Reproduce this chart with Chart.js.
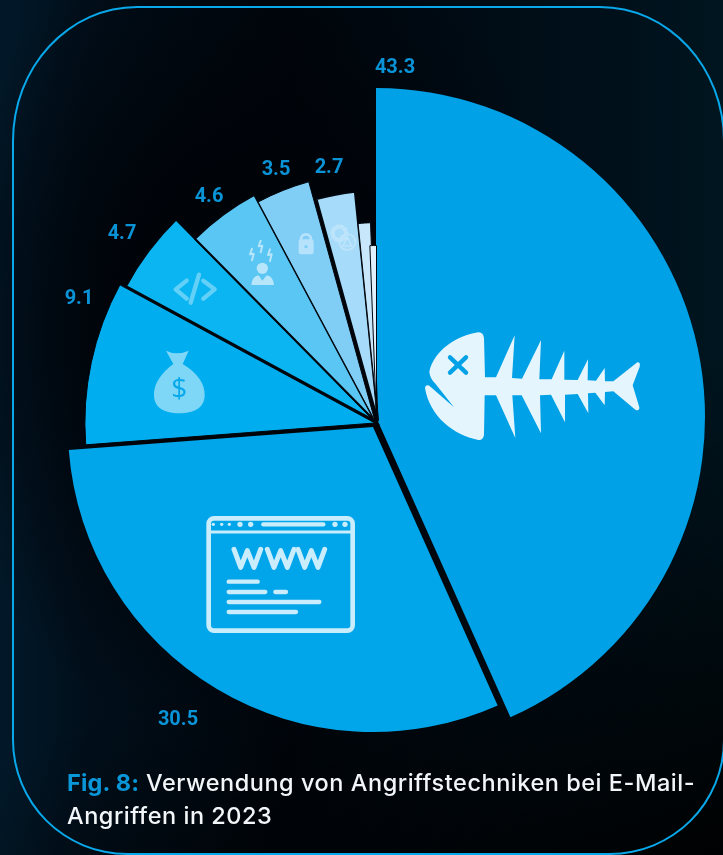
<!DOCTYPE html>
<html lang="de">
<head>
<meta charset="utf-8">
<style>
html,body{margin:0;padding:0;width:723px;height:855px;overflow:hidden;background:#01060d;}
#bg{position:absolute;left:0;top:0;width:723px;height:855px;
 background:
  radial-gradient(ellipse 330px 420px at 250px 330px, rgba(0,3,8,1) 35%, rgba(0,3,8,0) 100%),
  linear-gradient(90deg,#02192a 0%,#010f1b 12%,#00060d 40%,#00101b 85%,#00151f 100%);}
#bg2{position:absolute;left:0;top:0;width:723px;height:855px;
 background:linear-gradient(150deg,rgba(0,0,0,0) 60%,rgba(0,0,0,.95) 100%);}
#frame{position:absolute;left:12px;top:6px;width:709px;height:845px;border:2px solid #08a8ea;border-radius:125px 125px 115px 115px / 135px 135px 115px 115px;box-sizing:content-box;}
#wrap{position:absolute;left:0;top:0;width:723px;height:855px;}
#caption{position:absolute;left:67px;top:766px;width:650px;color:#f2f6f8;font:500 23.5px/33px "Inter",sans-serif;letter-spacing:.53px;white-space:nowrap;}
#caption b{color:#0a97da;font-weight:700;letter-spacing:.2px;}
</style>
</head>
<body>
<div id="bg"></div><div id="bg2"></div><div id="frame"></div>
<div id="wrap"><canvas id="c" width="723" height="855"></canvas></div>
<div id="caption"><b>Fig. 8:</b> Verwendung von Angriffstechniken bei E-Mail-<br>Angriffen in 2023</div>
<script src="https://cdn.jsdelivr.net/npm/chart.js@4"></script>
<script>
const categories = ["Phishing","Bösartige URLs","BEC / Finanzbetrug","Schadcode","Social Engineering","Datendiebstahl","Sonstige A","Sonstige B","Sonstige C"];
const values = [43.3,30.5,9.1,4.7,4.6,3.5,2.7,1.0,0.6];
const valueLabels = ["43.3","30.5","9.1","4.7","4.6","3.5","2.7"];

const sliceColors = ["#00a1e6","#00a6e9","#00aeef","#0bb5f1","#5ac6f3","#80cef6","#a6dbf9","#c8e7fb","#e0f1fc"];
const sliceBorders = [0,0,1,2,2,1,2,1,1];
const sliceReach = [330,306,291,284,257,249,231,199,176];
const sliceShift = [[1,-4],[-2,6],[0,2],[0,0],[0,0],[0,0],[3,0],[3,0],[1.5,0]];
const labelAnchors = [[395,68],[178,720],[79,299],[122,234],[209,197],[276,170],[329,168]];

const shapeSlices = {
  id:"shapeSlices",
  afterDatasetsUpdate(chart){
    const arcs = chart.getDatasetMeta(0).data;
    const base = arcs[0].outerRadius;
    arcs.forEach((a,i)=>{
      a.outerRadius = base*sliceReach[i]/330;
      a.x += sliceShift[i][0];
      a.y += sliceShift[i][1];
    });
  }
};

function poly(ctx,pts){ctx.beginPath();pts.forEach((p,i)=>i?ctx.lineTo(p[0],p[1]):ctx.moveTo(p[0],p[1]));ctx.stroke();}
function inZoom(ctx,ox,oy,fn){ctx.save();ctx.translate(ox,oy);ctx.scale(1/3,1/3);ctx.lineCap="round";ctx.lineJoin="round";fn();ctx.restore();}

function fish(ctx){inZoom(ctx,410,320,()=>{
  ctx.fillStyle="#e4f5fd";
  ctx.fill(new Path2D("M58 155 C72 92 140 46 205 37 Q220 36 222 55 L225 172 L258 172 L314 46 L306 174 L336 176 L393 60 L388 178 L425 178 L463 92 L463 179 L503 180 L534 118 L533 181 L558 182 L584 144 L585 184 L610 184 L682 127 Q692 126 689 140 L668 196 L688 262 Q689 274 677 270 L610 214 L585 216 L584 256 L556 218 L534 220 L535 280 L503 222 L465 224 L465 307 L423 224 L390 226 L393 340 L335 226 L307 226 L316 354 L258 226 L224 226 L222 345 Q219 362 205 360 C130 345 60 290 45 205 Q46 193 58 197 L132 262 L75 190 Q60 175 58 155 Z"));
  ctx.strokeStyle="#00a1e6";ctx.lineWidth=13;
  poly(ctx,[[120,112],[168,158]]);poly(ctx,[[168,112],[120,158]]);
});}

function browser(ctx){inZoom(ctx,190,500,()=>{
  const c="#c9edfc";ctx.strokeStyle=c;ctx.fillStyle=c;ctx.lineWidth=14;
  ctx.beginPath();ctx.roundRect(56,55,432,337,16);ctx.stroke();
  ctx.lineWidth=9;poly(ctx,[[56,96],[488,96]]);
  [[70,5],[95,5],[118,5],[150,8],[182,8],[435,8],[465,8]].forEach(d=>{ctx.beginPath();ctx.arc(d[0],73,d[1],0,7);ctx.fill();});
  ctx.lineWidth=13;poly(ctx,[[220,73],[400,73]]);
  ctx.lineWidth=15;
  [0,100,192].forEach(o=>poly(ctx,[[132+o,148],[152+o,202],[172+o,152],[192+o,202],[212+o,148]]));
  ctx.lineWidth=13;
  poly(ctx,[[116,245],[203,245]]);poly(ctx,[[116,276],[226,276]]);poly(ctx,[[256,276],[288,276]]);
  poly(ctx,[[116,306],[388,306]]);poly(ctx,[[116,336],[318,336]]);
});}

function otherIcons(ctx){inZoom(ctx,60,150,()=>{
  ctx.fillStyle="#7fd7f8";
  ctx.fill(new Path2D("M318 602 Q350 618 386 602 L368 642 C410 668 436 700 434 738 C432 775 400 790 358 790 C316 790 284 775 282 738 C280 700 306 668 340 642 Z"));
  ctx.fillStyle="#08a9ea";ctx.font='400 84px "Open Sans",sans-serif';ctx.textAlign="center";ctx.textBaseline="middle";
  ctx.fillText("$",358,720);
  ctx.strokeStyle="#62d0f7";ctx.lineWidth=13;
  poly(ctx,[[380,392],[347,418],[380,446]]);poly(ctx,[[417,374],[392,458]]);poly(ctx,[[430,392],[464,418],[430,446]]);
  ctx.fillStyle="#b7e5fa";
  ctx.beginPath();ctx.arc(607,355,17,0,7);ctx.fill();
  ctx.fill(new Path2D("M574 405 Q576 380 596 376 L607 392 L620 376 Q640 380 642 405 Z"));
  ctx.strokeStyle="#b7e5fa";ctx.lineWidth=6;
  [[578,296],[604,272],[632,298]].forEach(b=>poly(ctx,[[b[0]-2,b[1]],[b[0]-8,b[1]+17],[b[0]+3,b[1]+15],[b[0]-2,b[1]+35]]));
  ctx.fillStyle="#b6e3fb";ctx.strokeStyle="#b6e3fb";ctx.lineWidth=8;
  ctx.beginPath();ctx.arc(738,268,15,Math.PI,0);ctx.stroke();
  ctx.beginPath();ctx.roundRect(716,268,45,45,7);ctx.fill();
  ctx.fillStyle="#80cef6";ctx.beginPath();ctx.arc(738,290,5,0,7);ctx.fill();
  ctx.strokeStyle="#bfe5fb";ctx.lineWidth=5;
  ctx.beginPath();ctx.arc(838,250,17,0,7);ctx.stroke();
  ctx.setLineDash([7,7]);ctx.lineWidth=7;ctx.beginPath();ctx.arc(838,250,23,0,7);ctx.stroke();ctx.setLineDash([]);
  ctx.lineWidth=5;ctx.beginPath();ctx.arc(862,276,24,0,7);ctx.stroke();
  poly(ctx,[[862,262],[875,288],[849,288],[862,262]]);
});}

const overlay = {
  id:"overlay",
  afterDatasetsDraw(chart){
    const ctx = chart.ctx;
    fish(ctx);browser(ctx);otherIcons(ctx);
    ctx.save();
    ctx.fillStyle="#0a94d8";
    ctx.font='700 20px "Roboto",sans-serif';
    ctx.textAlign="center";ctx.textBaseline="middle";
    valueLabels.forEach((t,i)=>ctx.fillText(t,labelAnchors[i][0],labelAnchors[i][1]));
    ctx.restore();
  }
};

new Chart(document.getElementById("c"),{
  type:"pie",
  data:{labels:categories,datasets:[{data:values,backgroundColor:sliceColors,borderColor:"#00060d",borderWidth:sliceBorders,borderJoinStyle:"miter"}]},
  plugins:[shapeSlices,overlay],
  options:{
    responsive:false,animation:false,events:[],
    layout:{padding:{left:45,right:18,top:91,bottom:104}},
    plugins:{legend:{display:false},tooltip:{enabled:false},title:{display:false}}
  }
});
</script>
</body>
</html>
